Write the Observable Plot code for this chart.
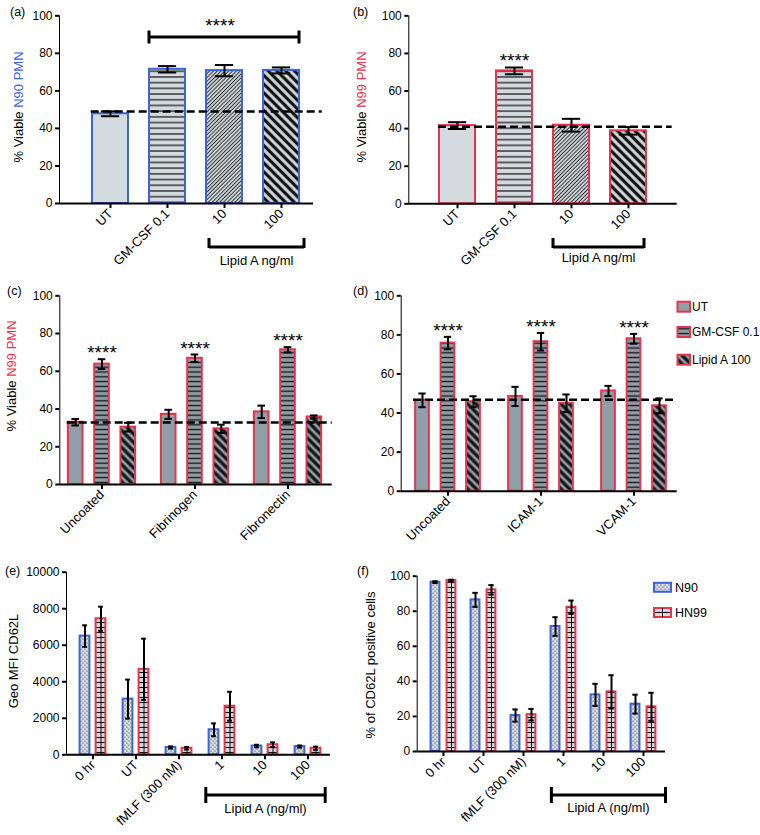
<!DOCTYPE html>
<html>
<head>
<meta charset="utf-8">
<script src="https://cdn.jsdelivr.net/npm/d3@7"></script>
<script src="https://cdn.jsdelivr.net/npm/@observablehq/plot@0.6"></script>
<style>
  html, body { margin: 0; padding: 0; background: #fff; }
  #fig { position: relative; width: 760px; height: 835px; overflow: hidden; background: #fff;
         font-family: "Liberation Sans", Arial, Helvetica, sans-serif; }
  #fig > svg { position: absolute; left: 0; top: 0; }
  #fig g[aria-label^="x-axis"] line, #fig g[aria-label^="x-axis"] path,
  #fig g[aria-label^="y-axis"] line, #fig g[aria-label^="y-axis"] path { stroke-width: 2px; }
</style>
</head>
<body>
<div id="fig"></div>
<script>
// ---------------- DATA ----------------
// (a)/(b) PMN viability
const treatmentsAB = ["UT", "GM-CSF 0.1", "10", "100"];
const viableN90 = [47.8, 71.5, 70.8, 70.9];
const semN90 = [1.3, 1.7, 3.0, 1.6];
const baselineN90 = 49;
const viableN99 = [41.6, 70.7, 41.8, 38.8];
const semN99 = [1.8, 1.8, 3.4, 2.0];
const baselineN99 = 41;
const sigBracketA = {from: "GM-CSF 0.1", to: "100", y: 88.4};
const sigB = ["GM-CSF 0.1"];
const lipidGroupAB = {from: "10", to: "100", label: "Lipid A ng/ml"};

// (c)/(d) viability on coated surfaces
const seriesCD = ["UT", "GM-CSF 0.1", "Lipid A 100"];
const coatingsC = ["Uncoated", "Fibrinogen", "Fibronectin"];
const viableC_UT = [33.0, 37.2, 38.5];
const semC_UT = [1.7, 2.4, 3.3];
const viableC_GM = [63.8, 66.9, 71.4];
const semC_GM = [2.6, 2.0, 1.4];
const viableC_LA = [30.4, 29.5, 35.8];
const semC_LA = [2.3, 2.2, 0.8];
const baselineC = 32.8;

const coatingsD = ["Uncoated", "ICAM-1", "VCAM-1"];
const viableD_UT = [46.5, 48.5, 51.3];
const semD_UT = [3.5, 4.9, 2.6];
const viableD_GM = [75.8, 76.5, 78.0];
const semD_GM = [3.2, 4.5, 2.5];
const viableD_LA = [45.8, 45.0, 43.7];
const semD_LA = [2.8, 4.5, 3.8];
const baselineD = 46.8;

// (e)/(f) CD62L
const conditionsEF = ["0 hr", "UT", "fMLF (300 nM)", "1", "10", "100"];
const seriesEF = ["N90", "HN99"];
const mfiN90 = [6500, 3050, 400, 1370, 480, 450];
const mfiN90Sem = [590, 1070, 60, 350, 70, 60];
const mfiHN99 = [7450, 4680, 360, 2660, 550, 360];
const mfiHN99Sem = [660, 1680, 70, 790, 130, 90];
const pctN90 = [96.6, 86.5, 20.5, 71.3, 32.3, 27.0];
const pctN90Sem = [0.5, 4.0, 3.5, 5.3, 6.3, 5.4];
const pctHN99 = [97.5, 92.2, 21.0, 82.3, 34.0, 25.5];
const pctHN99Sem = [0.5, 2.7, 3.3, 3.8, 9.5, 8.0];
const lipidGroupEF = {from: "1", to: "100", label: "Lipid A (ng/ml)"};

const significance = "****";
const ticks100 = [0, 20, 40, 60, 80, 100];
const ticksMFI = [0, 2000, 4000, 6000, 8000, 10000];

// ---------------- STYLE ----------------
const FONT = '"Liberation Sans", Arial, Helvetica, sans-serif';
const BLUE = "#3d63d8", RED = "#e5344e", LIGHT = "#d3dbde", DARK = "#8f9ea7";
const W = 760, H = 835;
const SIG_DY = -6;
const fig = document.getElementById("fig");

// pattern definitions
const defs = d3.select(fig).append("svg").attr("width", 0).attr("height", 0).append("defs");
function patH(id, bg, step, sw) {
  const p = defs.append("pattern").attr("id", id).attr("patternUnits", "userSpaceOnUse")
    .attr("width", 10).attr("height", step);
  p.append("rect").attr("width", 10).attr("height", step).attr("fill", bg);
  p.append("line").attr("x1", 0).attr("x2", 10).attr("y1", step / 2).attr("y2", step / 2)
    .attr("stroke", "#111").attr("stroke-width", sw);
}
function patD(id, bg, step, sw, angle, color) {
  const p = defs.append("pattern").attr("id", id).attr("patternUnits", "userSpaceOnUse")
    .attr("width", step).attr("height", 10).attr("patternTransform", `rotate(${angle})`);
  p.append("rect").attr("width", step).attr("height", 10).attr("fill", bg);
  p.append("line").attr("x1", step / 2).attr("x2", step / 2).attr("y1", 0).attr("y2", 10)
    .attr("stroke", color).attr("stroke-width", sw);
}
function patDots(id, bg) {
  const p = defs.append("pattern").attr("id", id).attr("patternUnits", "userSpaceOnUse")
    .attr("width", 4).attr("height", 4);
  p.append("rect").attr("width", 4).attr("height", 4).attr("fill", bg);
  p.append("circle").attr("cx", 1).attr("cy", 1).attr("r", 0.6).attr("fill", "#333");
  p.append("circle").attr("cx", 3).attr("cy", 3).attr("r", 0.6).attr("fill", "#333");
}
patH("hL", LIGHT, 5.7, 1.2);
patD("dThinL", LIGHT, 2.7, 1.0, 45, "#333");
patD("dThickL", LIGHT, 6.2, 3.2, -45, "#111");
patH("hD", DARK, 4.8, 1.3);
patD("dThickD", DARK, 6.0, 3.2, -45, "#111");
patDots("dotsL", LIGHT);
patH("gridL", LIGHT, 5.0, 1.1);

// ---------------- HELPERS ----------------
function basePlot({frame, xDomain, xRange, xPadInner = 0, xPadOuter = 0, yDomain, yTicks, yFormat, color, marks}) {
  const [L, R, T, B] = frame;
  const plot = Plot.plot({
    width: W, height: H,
    marginLeft: L, marginRight: W - R, marginTop: T, marginBottom: H - B,
    style: {background: "transparent", fontFamily: FONT, fontSize: "12px", color: "#000", overflow: "visible"},
    x: {type: "band", domain: xDomain, range: xRange, paddingInner: xPadInner, paddingOuter: xPadOuter,
        label: null, tickSize: 5, tickPadding: 3, tickRotate: -45},
    y: {domain: yDomain, ticks: yTicks, tickFormat: yFormat, label: null, tickSize: 4, tickPadding: 3, line: true},
    color,
    marks
  });
  // enforce tick label sizes (x labels slightly larger, like the original)
  const xSet = new Set(xDomain.map(String));
  d3.select(plot).selectAll("text").each(function () {
    if (this.closest('g[aria-label="text"]')) return;
    const t = this.textContent;
    this.style.fontSize = xSet.has(t) && !/^\d+$/.test(t) ? "13px" : (xSet.has(t) && this.closest('[aria-label^="x-axis"]') ? "13px" : "12px");
    this.style.fontFamily = FONT;
  });
  d3.select(plot).selectAll('[aria-label^="x-axis"] text').style("font-size", "13px");
  fig.appendChild(plot);
  return plot;
}
function rowsOf(cats, vals, sems) { return cats.map((cat, i) => ({cat, v: vals[i], e: sems[i]})); }
function errMarks(rows, {dx = 0, capInset}) {
  return [
    Plot.ruleX(rows, {x: "cat", y1: d => d.v - d.e, y2: d => d.v + d.e, dx, stroke: "#000", strokeWidth: 2}),
    Plot.tickY(rows, {x: "cat", y: d => d.v + d.e, dx, insetLeft: capInset, insetRight: capInset, stroke: "#000", strokeWidth: 2}),
    Plot.tickY(rows, {x: "cat", y: d => d.v - d.e, dx, insetLeft: capInset, insetRight: capInset, stroke: "#000", strokeWidth: 2})
  ];
}
function scalesOf(plot) {
  const sx = plot.scale("x"), sy = plot.scale("y");
  const bx = sx.apply ? sx.apply : d3.scaleBand(sx.domain, sx.range).paddingInner(sx.paddingInner || 0).paddingOuter(sx.paddingOuter || 0);
  const fy = sy.apply ? sy.apply : d3.scaleLinear(sy.domain, sy.range);
  const bw = sx.bandwidth;
  return {start: c => bx(c), center: c => bx(c) + bw / 2, end: c => bx(c) + bw, y: fy};
}
function yLabel(plot, x, y, parts) {
  const t = d3.select(plot).append("text").attr("transform", `translate(${x},${y}) rotate(-90)`)
    .attr("text-anchor", "middle").attr("dy", "0.35em").attr("font-size", 13);
  parts.forEach(([s, c]) => t.append("tspan").attr("fill", c).text(s));
}
function letter(plot, x, y, s) {
  d3.select(plot).append("text").attr("x", x).attr("y", y).attr("text-anchor", "start")
    .attr("font-size", 12.5).attr("fill", "#000").text(s);
}
function bottomBracket(plot, group, {padL, padR, y, tickUp, tickDown, textY}) {
  const s = scalesOf(plot);
  const x1 = s.center(group.from) - padL, x2 = s.center(group.to) + padR;
  const g = d3.select(plot).append("g");
  g.append("path").attr("d", `M${x1},${y - tickUp}V${y + tickDown}M${x1},${y}H${x2}M${x2},${y - tickUp}V${y + tickDown}`)
    .attr("fill", "none").attr("stroke", "#000").attr("stroke-width", 3);
  g.append("text").attr("x", (x1 + x2) / 2).attr("y", textY).attr("dy", "0.35em").attr("text-anchor", "middle")
    .attr("font-size", 13).text(group.label);
}

// ---------------- (a) ----------------
const fillsAB = [LIGHT, "url(#hL)", "url(#dThinL)", "url(#dThickL)"];
function viabilityMarks({xRange, values, sems, stroke, baseline, dashInsets}) {
  const rows = rowsOf(treatmentsAB, values, sems);
  const bw = (xRange[1] - xRange[0]) / 4 * 0.64;
  const marks = [
    Plot.barY(rows, {x: "cat", y: "v", fill: "cat", stroke, strokeWidth: 2}),
    Plot.ruleY([baseline], {stroke: "#000", strokeWidth: 2.5, strokeDasharray: "8,4", insetLeft: dashInsets[0], insetRight: dashInsets[1]}),
    ...errMarks(rows, {capInset: (bw - 19) / 2}),
    Plot.ruleY([0], {stroke: "#000", strokeWidth: 2})
  ];
  return {rows, marks};
}
const A = viabilityMarks({xRange: [81.35, 310.65], values: viableN90, sems: semN90, stroke: BLUE, baseline: baselineN90, dashInsets: [31.7, -8.7]});
const plotA = basePlot({
  frame: [59, 313, 15.3, 203], xDomain: treatmentsAB, xRange: [81.35, 310.65], xPadInner: 0.36, xPadOuter: 0.18,
  yDomain: [0, 100], yTicks: ticks100,
  color: {type: "ordinal", domain: treatmentsAB, range: fillsAB},
  marks: A.marks
});
{
  const s = scalesOf(plotA);
  const x1 = s.start(sigBracketA.from), x2 = s.end(sigBracketA.to), y = s.y(sigBracketA.y);
  const g = d3.select(plotA).append("g");
  g.append("path").attr("d", `M${x1},${y - 6.5}V${y + 6.5}M${x1},${y}H${x2}M${x2},${y - 6.5}V${y + 6.5}`)
    .attr("fill", "none").attr("stroke", "#000").attr("stroke-width", 3);
  g.append("text").attr("x", (x1 + x2) / 2 - 4).attr("y", y - 5).attr("text-anchor", "middle").attr("font-size", 19).text(significance);
}
yLabel(plotA, 18.3, 107, [["% Viable ", "#000"], ["N90 PMN", BLUE]]);
letter(plotA, 10, 16, "(a)");
bottomBracket(plotA, lipidGroupAB, {padL: 15, padR: 23, y: 247, tickUp: 9, tickDown: 1, textY: 260});

// ---------------- (b) ----------------
const Bp = viabilityMarks({xRange: [427.85, 657.15], values: viableN99, sems: semN99, stroke: RED, baseline: baselineN99, dashInsets: [29.7, 5]});
const plotB = basePlot({
  frame: [408.3, 676.7, 15.3, 203.3], xDomain: treatmentsAB, xRange: [427.85, 657.15], xPadInner: 0.36, xPadOuter: 0.18,
  yDomain: [0, 100], yTicks: ticks100,
  color: {type: "ordinal", domain: treatmentsAB, range: fillsAB},
  marks: [...Bp.marks,
    Plot.text(Bp.rows.filter(d => sigB.includes(d.cat)), {x: "cat", y: d => d.v + d.e, text: () => significance, dy: SIG_DY - 1, fontSize: 19})]
});
yLabel(plotB, 361.7, 107, [["% Viable ", "#000"], ["N99 PMN", RED]]);
letter(plotB, 353, 16, "(b)");
bottomBracket(plotB, lipidGroupAB, {padL: 18, padR: 16, y: 247, tickUp: 9, tickDown: 1, textY: 257});

// ---------------- (c)/(d) ----------------
const fillsCD = [DARK, "url(#hD)", "url(#dThickD)"];
function groupedViability({frame, cats, xRange, series, dxs, barW, capW, baseline, dashInsets}) {
  const step = (xRange[1] - xRange[0]) / cats.length;
  const inset = (step - barW) / 2, capInset = (step - capW) / 2;
  const marks = [];
  series.forEach(([vals, sems], i) => {
    const rows = rowsOf(cats, vals, sems);
    marks.push(Plot.barY(rows, {x: "cat", y: "v", dx: dxs[i], insetLeft: inset, insetRight: inset, fill: fillsCD[i], stroke: RED, strokeWidth: 2}));
  });
  marks.push(Plot.ruleY([baseline], {stroke: "#000", strokeWidth: 2.5, strokeDasharray: "8,4", insetLeft: dashInsets[0], insetRight: dashInsets[1]}));
  series.forEach(([vals, sems], i) => marks.push(...errMarks(rowsOf(cats, vals, sems), {dx: dxs[i], capInset})));
  const gmRows = rowsOf(cats, series[1][0], series[1][1]);
  marks.push(Plot.text(gmRows, {x: "cat", y: d => d.v + d.e, dx: dxs[1], text: () => significance, dy: SIG_DY, fontSize: 19}));
  marks.push(Plot.ruleY([0], {stroke: "#000", strokeWidth: 2}));
  return basePlot({frame, xDomain: cats, xRange, yDomain: [0, 100], yTicks: ticks100, marks});
}
const plotC = groupedViability({
  frame: [59.3, 331.7, 295.3, 484], cats: coatingsC, xRange: [54.3, 334.4],
  series: [[viableC_UT, semC_UT], [viableC_GM, semC_GM], [viableC_LA, semC_LA]],
  dxs: [-26.3, 0, 26.3], barW: 15, capW: 8, baseline: baselineC, dashInsets: [7.4, 0]
});
yLabel(plotC, 11.7, 376, [["% Viable ", "#000"], ["N99 PMN", RED]]);
letter(plotC, 7, 295, "(c)");

const plotD = groupedViability({
  frame: [400.7, 676.7, 295.3, 490.7], cats: coatingsD, xRange: [400.1, 681.4],
  series: [[viableD_UT, semD_UT], [viableD_GM, semD_GM], [viableD_LA, semD_LA]],
  dxs: [-25.5, 0, 25.5], barW: 14.5, capW: 8, baseline: baselineD, dashInsets: [12.3, 0.7]
});
letter(plotD, 353, 295, "(d)");
{
  const g = d3.select(plotD).append("g");
  const ys = [306.7, 332, 359.7];
  seriesCD.forEach((name, i) => {
    g.append("rect").attr("x", 677.5).attr("y", ys[i] - 5).attr("width", 12.5).attr("height", 10)
      .attr("fill", fillsCD[i]).attr("stroke", RED).attr("stroke-width", 2);
    g.append("text").attr("x", 692).attr("y", ys[i]).attr("dy", "0.35em").attr("text-anchor", "start")
      .attr("font-size", 12).text(name);
  });
}

// ---------------- (e)/(f) ----------------
const fillsEF = ["url(#dotsL)", "url(#gridL)"];
const strokesEF = [BLUE, RED];
function cd62lPanel({frame, xRange, yDomain, yTicks, yFormat, series, barW, capW}) {
  const step = (xRange[1] - xRange[0]) / conditionsEF.length;
  const inset = (step - barW) / 2, capInset = (step - capW) / 2;
  const dxs = [-8, 8];
  const marks = [];
  const rowsList = series.map(([vals, sems]) => rowsOf(conditionsEF, vals, sems));
  rowsList.forEach((rows, i) => {
    marks.push(Plot.barY(rows, {x: "cat", y: "v", dx: dxs[i], insetLeft: inset, insetRight: inset, fill: fillsEF[i], stroke: strokesEF[i], strokeWidth: 2}));
  });
  marks.push(Plot.ruleX(rowsList[1], {x: "cat", y1: 0, y2: "v", dx: dxs[1], stroke: "#111", strokeWidth: 1}));
  rowsList.forEach((rows, i) => marks.push(...errMarks(rows, {dx: dxs[i], capInset})));
  marks.push(Plot.ruleY([0], {stroke: "#000", strokeWidth: 2}));
  return basePlot({frame, xDomain: conditionsEF, xRange, yDomain, yTicks, yFormat, marks});
}
const plotE = cd62lPanel({
  frame: [66, 330, 571.7, 754.3], xRange: [70.7, 330], yDomain: [0, 10000], yTicks: ticksMFI, yFormat: d3.format("d"),
  series: [[mfiN90, mfiN90Sem], [mfiHN99, mfiHN99Sem]], barW: 10, capW: 5
});
yLabel(plotE, 13, 661, [["Geo MFI CD62L", "#000"]]);
letter(plotE, 5, 575, "(e)");
bottomBracket(plotE, lipidGroupEF, {padL: 15.7, padR: 17.7, y: 795, tickUp: 8, tickDown: 8, textY: 808.5});

const plotF = cd62lPanel({
  frame: [416.7, 665, 575.7, 751], xRange: [420.7, 664.5], yDomain: [0, 100], yTicks: ticks100,
  series: [[pctN90, pctN90Sem], [pctHN99, pctHN99Sem]], barW: 9.5, capW: 6
});
yLabel(plotF, 370, 665, [["% of CD62L positive cells", "#000"]]);
letter(plotF, 357, 575, "(f)");
bottomBracket(plotF, lipidGroupEF, {padL: 11.6, padR: 22.5, y: 795, tickUp: 8, tickDown: 8, textY: 807});
{
  const g = d3.select(plotF).append("g");
  const ys = [587.3, 612.5];
  seriesEF.forEach((name, i) => {
    g.append("rect").attr("x", 654).attr("y", ys[i] - 4.5).attr("width", 17).attr("height", 9)
      .attr("fill", fillsEF[i]).attr("stroke", strokesEF[i]).attr("stroke-width", 2);
    if (i === 1) g.append("line").attr("x1", 662.5).attr("x2", 662.5).attr("y1", ys[i] - 4.5).attr("y2", ys[i] + 4.5).attr("stroke", "#111");
    g.append("text").attr("x", 675).attr("y", ys[i]).attr("dy", "0.35em").attr("text-anchor", "start")
      .attr("font-size", 12.5).text(name);
  });
}
</script>
</body>
</html>
